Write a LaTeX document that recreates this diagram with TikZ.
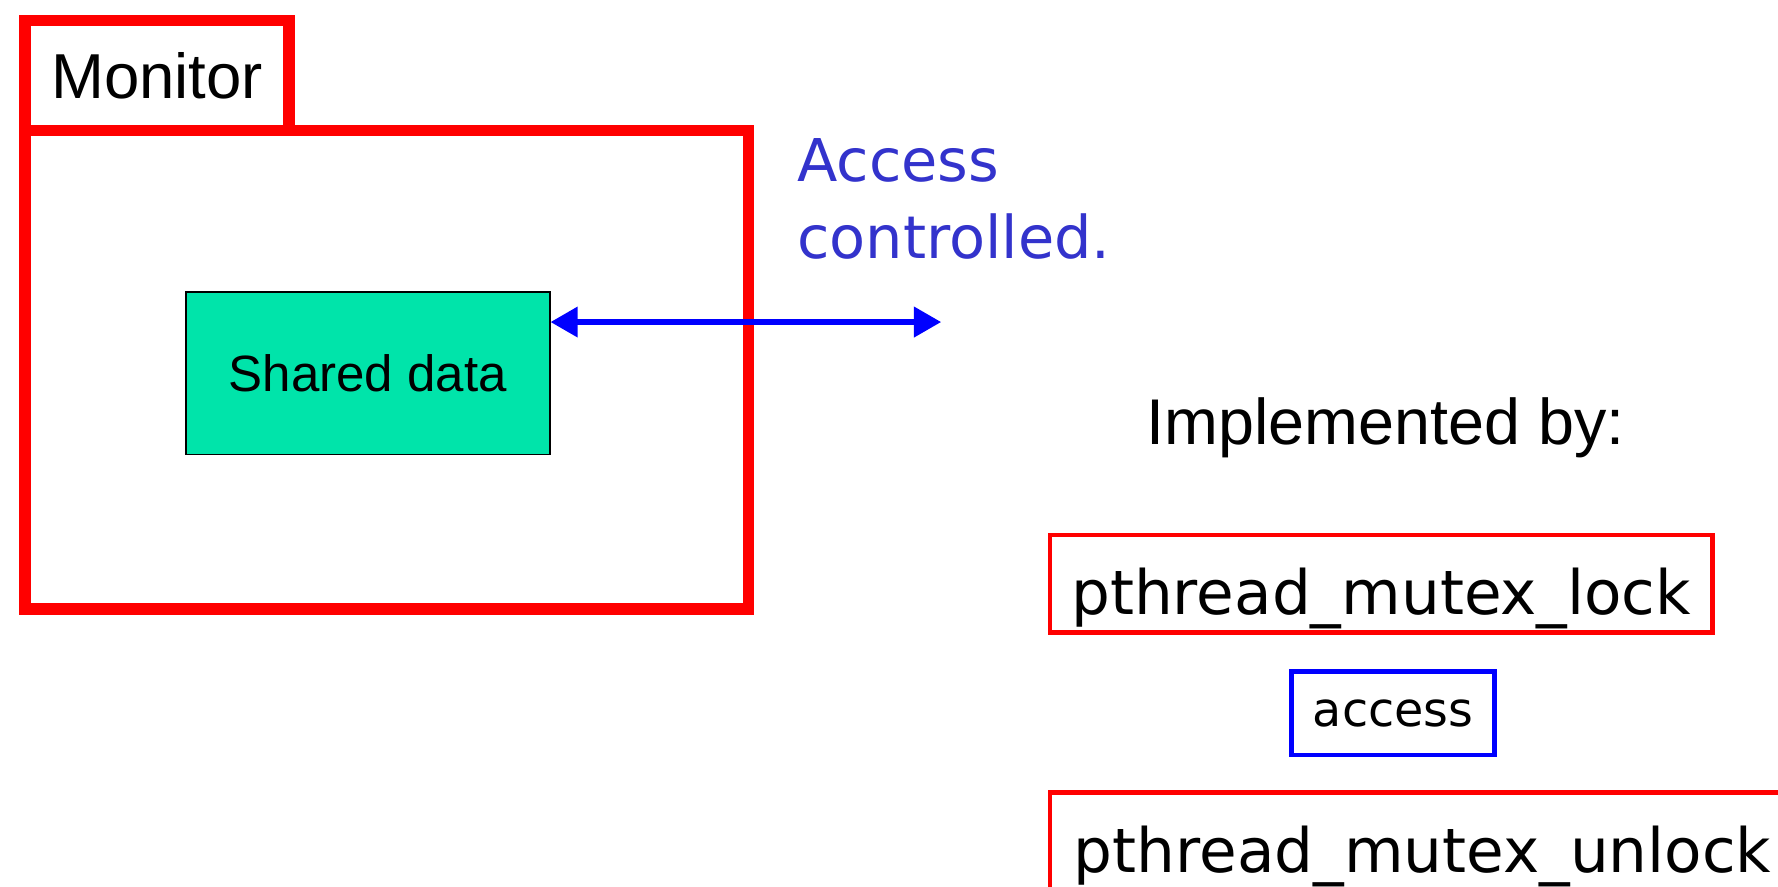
\documentclass[tikz,border=0pt]{standalone}
\usepackage{fontspec}
\setmainfont{Liberation Sans}
\newfontfamily\comicfont{DejaVu Sans}
\usepackage{tikz}
\usetikzlibrary{arrows.meta}
\definecolor{datagreen}{RGB}{0,228,170}
\definecolor{notecol}{RGB}{51,51,204}

\begin{document}
\begin{tikzpicture}[x=1pt,y=-1pt,
  monbox/.style={draw=red,line width=10pt,anchor=north west,inner sep=0pt},
  callbox/.style={draw=red,line width=4pt,inner sep=0pt,anchor=north west,
    font=\comicfont\fontsize{54}{60}\selectfont,text height=70pt,text depth=16pt}]
\useasboundingbox (0,0) rectangle (1568,782);
\clip (0,0) rectangle (1568,782);
\node[monbox,minimum width=638,minimum height=422] (monitor) at (17,110) {};
\node[monbox,minimum width=233,minimum height=97,font=\fontsize{56}{60}\selectfont] (tab) at (17,13) {Monitor};
\node[fill=datagreen,draw=black,line width=1.5pt,minimum width=321,minimum height=143,
  anchor=north west,font=\fontsize{45}{50}\selectfont] (shared) at (163,257) {Shared data};
\coordinate (tip) at (830,284);
\draw[blue,line width=5pt,{Triangle[length=24pt,width=26pt]}-{Triangle[length=24pt,width=26pt]}] (shared.east |- tip) -- (tip);
\node[anchor=north west,inner sep=0pt,align=left,text=notecol,
  font=\comicfont\fontsize{52}{68}\selectfont] (note) at (703,122) {Access\\controlled.};
\node[anchor=base,font=\fontsize{57}{60}\selectfont] (impl) at (1222,392) {Implemented by:};
\node[callbox,minimum width=584] (lock) at (924,470) {pthread\_mutex\_lock};
\node[draw=blue,line width=4pt,minimum width=179,minimum height=74,inner sep=0pt,
  font=\comicfont\fontsize{42}{46}\selectfont] (acc) at (1228.5,629) {access};
\node[callbox,text depth=200pt,text width=857pt,align=left,inner xsep=21pt] (unlock) at (924,697) {pthread\_mutex\_unlock};
\end{tikzpicture}
\end{document}
